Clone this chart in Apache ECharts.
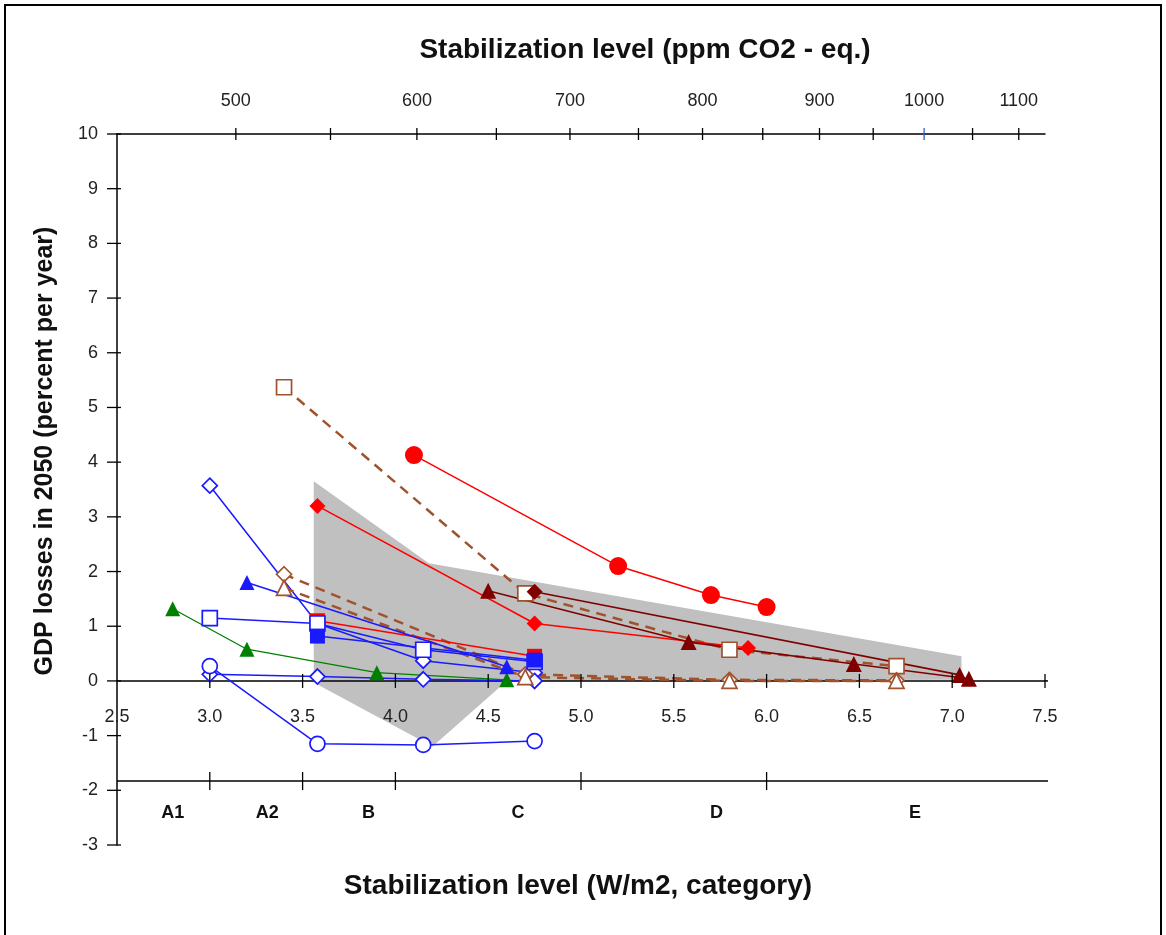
<!DOCTYPE html>
<html><head><meta charset="utf-8">
<script src="https://cdn.jsdelivr.net/npm/echarts@6/dist/echarts.min.js"></script>
<style>html,body{margin:0;padding:0;background:#fff}#c{width:1166px;height:935px}</style>
</head><body><div id="c"></div>
<script>
// ---- axis / tick data ----
const ppmTicks = [500,550,600,650,700,750,800,850,900,950,1000,1050,1100];
const ppmLabels = [500,600,700,800,900,1000,1100];
const yTicks = [-3,-2,-1,0,1,2,3,4,5,6,7,8,9,10];
const wTicks = [2.5,3.0,3.5,4.0,4.5,5.0,5.5,6.0,6.5,7.0,7.5];
const categoryNames = ['A1','A2','B','C','D','E'];
const categoryBounds = [3.0,3.5,4.0,5.0,6.0];

// ---- series data [W/m2, GDP loss %] ----
const blueOpenDiamondHigh = [[3.0,3.57],[3.58,1.05],[4.15,0.37],[4.75,0.15]];
const blueFilledTriangle  = [[3.2,1.8],[4.6,0.26]];
const blueOpenSquare      = [[3.0,1.15],[3.58,1.05],[4.15,0.57],[4.75,0.35]];
const blueFilledSquare    = [[3.58,0.82],[4.75,0.38]];
const blueOpenCircle      = [[3.0,0.27],[3.58,-1.15],[4.15,-1.17],[4.75,-1.1]];
const blueOpenDiamondLow  = [[3.0,0.12],[3.58,0.08],[4.15,0.03],[4.75,0.0]];
const greenTriangle       = [[2.8,1.32],[3.2,0.58],[3.9,0.15],[4.6,0.02]];
const redCircle           = [[4.1,4.13],[5.2,2.1],[5.7,1.57],[6.0,1.35]];
const redDiamond          = [[3.58,3.2],[4.75,1.05],[5.9,0.6]];
const redSquare           = [[3.58,1.1],[4.75,0.45]];
const brownOpenSquare     = [[3.4,5.37],[4.7,1.6],[5.8,0.57],[6.7,0.27]];
const brownOpenDiamond    = [[3.4,1.95],[4.7,0.12],[5.8,0.02],[6.7,0.01]];
const brownOpenTriangle   = [[3.4,1.7],[4.7,0.07],[5.8,0.0],[6.7,0.0]];
const maroonTriangle      = [[4.5,1.65],[5.58,0.71],[6.47,0.31],[7.09,0.04]];
const maroonDiamond       = [[4.75,1.63],[7.04,0.11]];
const rangeArea           = [[3.56,3.65],[4.18,2.15],[7.05,0.45],[7.05,0.02],[4.6,0.0],[4.2,-1.2],[3.56,-0.03]];

// ---- helpers / layout ----
function forcing(ppm){ return 5.35 * Math.log(ppm / 278); }
const FONT = '"Liberation Sans", Arial, sans-serif';
const catLineY = -1.83, catLabelY = -2.42;
const catLabelX = [2.8, 3.31, 3.855, 4.66, 5.73, 6.8];

const BLUE='#1a1aff', GREEN='#008000', RED='#ff0000', BROWN='#a0522d', MAROON='#800000';

function lineSeries(data, color, symbol, open, opts){
  opts = opts || {};
  return {
    type:'line', data:data, z:4,
    symbol:symbol, symbolSize: opts.size || 15, showSymbol:true,
    lineStyle:{color:color, width: opts.width || 1.5, type: opts.dash || 'solid'},
    itemStyle: open ? {color:'#fff', borderColor:color, borderWidth:1.7, opacity:1}
                    : {color:color, borderColor:color, borderWidth:0, opacity:1},
    emphasis:{disabled:true}, animation:false
  };
}
function txt(x, y, s, font, fill){
  return {type:'text', x:x, y:y, style:{text:s, font:font, fill:fill||'#222', align:'center', verticalAlign:'middle', textAlign:'center', textVerticalAlign:'middle'}};
}

const chart = echarts.init(document.getElementById('c'), null, {renderer:'canvas'});

const option = {
  animation:false,
  grid:{left:117, right:121, top:134, bottom:90, containLabel:false},
  xAxis:[
    {type:'value', min:2.5, max:7.5, interval:0.5, z:3,
     axisLine:{onZero:true, lineStyle:{color:'#000', width:1.5}},
     axisTick:{show:false}, splitLine:{show:false}, axisLabel:{show:false}},
    {type:'value', min:2.5, max:7.5, position:'top', z:3,
     axisLine:{show:true, onZero:false, lineStyle:{color:'#000', width:1.5}},
     axisTick:{show:false}, axisLabel:{show:false}, splitLine:{show:false}}
  ],
  yAxis:{type:'value', min:-3, max:10, interval:1, z:3,
     axisLine:{show:true, onZero:false, lineStyle:{color:'#000', width:1.5}},
     axisTick:{show:false}, splitLine:{show:false},
     axisLabel:{margin:19, fontSize:18, color:'#222', fontFamily:FONT}},
  graphic:[
    {type:'rect', shape:{x:5, y:5, width:1156, height:945}, style:{fill:'none', stroke:'#000', lineWidth:2}, silent:true},
    txt(645, 50, 'Stabilization level (ppm CO2 - eq.)', 'bold 28px '+FONT, '#111'),
    txt(578, 886, 'Stabilization level (W/m2, category)', 'bold 28px '+FONT, '#111'),
    Object.assign(txt(45, 451, 'GDP losses in 2050 (percent per year)', 'bold 25px '+FONT, '#111'), {rotation:Math.PI/2})
  ],
  series:[
    {type:'custom', z:1, silent:true, data:[[3,0]], clip:false,
     renderItem:(params, api)=>({type:'polygon', shape:{points: rangeArea.map(p=>api.coord(p))}, style:{fill:'#c0c0c0'}})},
    lineSeries(blueOpenDiamondHigh, BLUE, 'diamond', true),
    lineSeries(blueOpenDiamondLow, BLUE, 'diamond', true),
    lineSeries(blueOpenCircle, BLUE, 'circle', true),
    lineSeries(greenTriangle, GREEN, 'triangle', false, {width:1.3}),
    lineSeries(brownOpenSquare, BROWN, 'rect', true, {dash:[10,7], width:2.5}),
    lineSeries(brownOpenDiamond, BROWN, 'diamond', true, {dash:[10,7], width:2.5}),
    lineSeries(brownOpenTriangle, BROWN, 'triangle', true, {dash:[10,7], width:2.5}),
    lineSeries(redCircle, RED, 'circle', false, {size:18}),
    lineSeries(redDiamond, RED, 'diamond', false, {size:16}),
    lineSeries(redSquare, RED, 'rect', false),
    lineSeries(blueFilledTriangle, BLUE, 'triangle', false),
    lineSeries(blueOpenSquare, BLUE, 'rect', true),
    lineSeries(blueFilledSquare, BLUE, 'rect', false),
    lineSeries(maroonTriangle, MAROON, 'triangle', false, {width:1.6, size:16}),
    Object.assign(lineSeries(maroonDiamond, MAROON, 'diamond', false, {width:1.6, size:16}),
      {symbol:(v,p)=>p.dataIndex===0?'diamond':'triangle'}),
    // axis decorations (ticks, labels on zero line, top ppm axis, category axis)
    {type:'custom', z:5, silent:true, clip:false, data:[[3,0]],
     renderItem:(params, api)=>{
       const ch = [];
       const st = {stroke:'#000', lineWidth:1.3};
       wTicks.forEach(v=>{
         const p=api.coord([v,0]);
         if (v > 2.5) ch.push({type:'line', shape:{x1:p[0],y1:p[1]-7,x2:p[0],y2:p[1]+7}, style:st});
         ch.push(txt(p[0], p[1]+36, v.toFixed(1), '18px '+FONT));
       });
       yTicks.forEach(v=>{ const p=api.coord([2.5,v]); ch.push({type:'line', shape:{x1:p[0]-10,y1:p[1],x2:p[0]+4,y2:p[1]}, style:st}); });
       ppmTicks.forEach(v=>{ const p=api.coord([forcing(v),10]); ch.push({type:'line', shape:{x1:p[0],y1:p[1]-6,x2:p[0],y2:p[1]+6}, style:{stroke: v===1000?'#3060c0':'#000', lineWidth:1.3}}); });
       ppmLabels.forEach(v=>{ const p=api.coord([forcing(v),10]); ch.push(txt(p[0], p[1]-33, String(v), '18px '+FONT)); });
       const a=api.coord([2.5,catLineY]), b=api.coord([7.5,catLineY]);
       ch.push({type:'line', shape:{x1:a[0],y1:a[1],x2:b[0]+3,y2:b[1]}, style:{stroke:'#000', lineWidth:1.5}});
       const z0=api.coord([7.5,0]);
       ch.push({type:'line', shape:{x1:z0[0],y1:z0[1],x2:z0[0]+3,y2:z0[1]}, style:{stroke:'#000', lineWidth:1.5}});
       categoryBounds.forEach(v=>{ const p=api.coord([v,catLineY]); ch.push({type:'line', shape:{x1:p[0],y1:p[1]-9,x2:p[0],y2:p[1]+9}, style:st}); });
       categoryNames.forEach((n,i)=>{ const p=api.coord([catLabelX[i],catLabelY]); ch.push(txt(p[0], p[1], n, 'bold 18px '+FONT, '#111')); });
       return {type:'group', children:ch};
     }}
  ]
};
chart.setOption(option);
</script>
</body></html>
